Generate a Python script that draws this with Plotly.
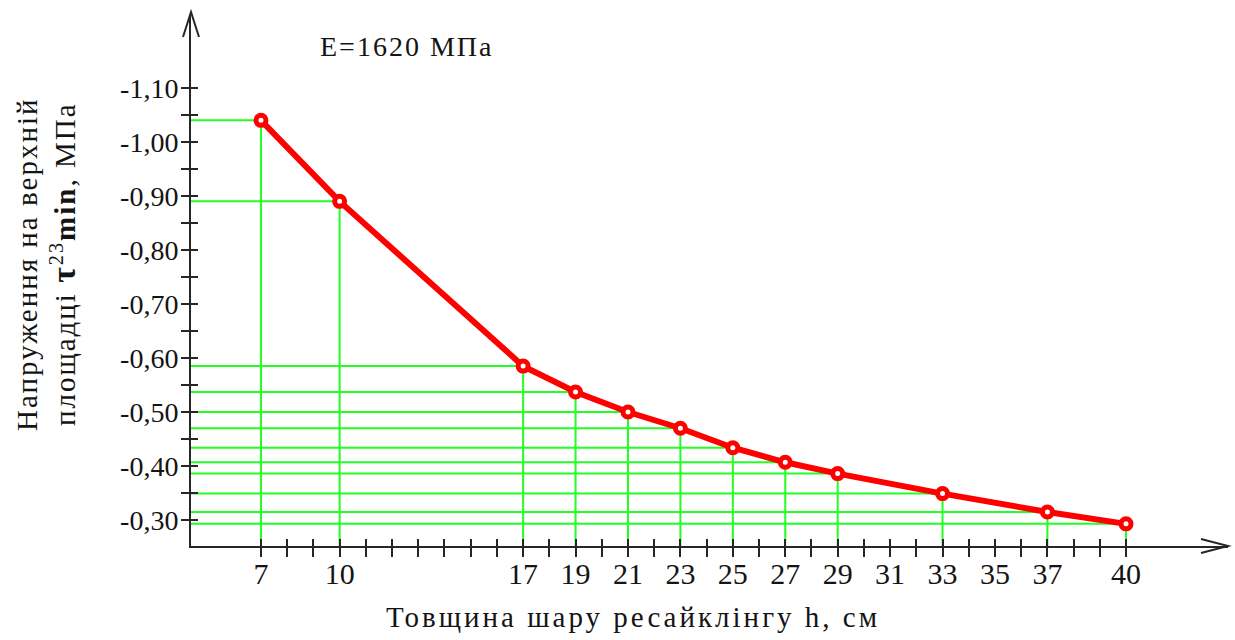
import plotly.graph_objects as go

# Layer thickness h, cm and minimum shear stress τ23min, MPa
thickness = [7, 10, 17, 19, 21, 23, 25, 27, 29, 33, 37, 40]
stress = [-1.04, -0.89, -0.585, -0.537, -0.50, -0.47, -0.434, -0.407, -0.386, -0.349, -0.315, -0.293]

# Axis ticks: labelled values and the full set of tick marks
x_label_vals = [7, 10, 17, 19, 21, 23, 25, 27, 29, 31, 33, 35, 37, 40]
x_tick_labels = ["7", "10", "17", "19", "21", "23", "25", "27", "29", "31", "33", "35", "37", "40"]
x_mark_vals = list(range(7, 41))
y_label_vals = [-0.30, -0.40, -0.50, -0.60, -0.70, -0.80, -0.90, -1.00, -1.10]
y_tick_labels = ["-0,30", "-0,40", "-0,50", "-0,60", "-0,70", "-0,80", "-0,90", "-1,00", "-1,10"]
y_mark_vals = [-0.30, -0.35, -0.40, -0.45, -0.50, -0.55, -0.60, -0.65, -0.70, -0.75,
               -0.80, -0.85, -0.90, -0.95, -1.00, -1.05, -1.10]

X_RANGE = [4.33, 43.89]
Y_RANGE = [-0.252, -1.235]  # reversed: most negative at the top

SERIF = "Liberation Serif, Times New Roman, serif"
AXIS_COLOR = "#262626"
TEXT_COLOR = "#141414"


def spaced(text, px):
    return f"<span style='letter-spacing:{px}px'>{text}</span>"


fig = go.Figure()

# Green projection lines from each point to both axes
gx, gy = [], []
for h, s in zip(thickness, stress):
    gx += [X_RANGE[0], h, h, None]
    gy += [s, s, Y_RANGE[0], None]
fig.add_trace(go.Scatter(x=gx, y=gy, mode="lines",
                         line=dict(color="#22ff22", width=2),
                         hoverinfo="skip", showlegend=False))

# Red curve with hollow markers
fig.add_trace(go.Scatter(x=thickness, y=stress, mode="lines+markers",
                         line=dict(color="#ff0000", width=6),
                         marker=dict(symbol="circle", size=10, color="white",
                                     line=dict(color="#ff0000", width=5)),
                         showlegend=False))

# Invisible trace to carry the overlay axes (inner half of crossing ticks)
fig.add_trace(go.Scatter(x=[X_RANGE[0]], y=[Y_RANGE[0]], xaxis="x2", yaxis="y2",
                         mode="markers", marker=dict(opacity=0),
                         hoverinfo="skip", showlegend=False))

fig.update_layout(
    width=1235, height=640,
    margin=dict(l=191, r=7, t=15, b=94),
    paper_bgcolor="white", plot_bgcolor="white",
    font=dict(family=SERIF, color=TEXT_COLOR, size=26),
    xaxis=dict(range=X_RANGE, showgrid=False, zeroline=False,
               showline=True, linecolor=AXIS_COLOR, linewidth=2,
               ticks="outside", ticklen=9, tickwidth=2, tickcolor=AXIS_COLOR,
               tickmode="array", tickvals=x_label_vals, ticktext=x_tick_labels,
               ticklabelstandoff=-9,
               minor=dict(tickmode="array", tickvals=x_mark_vals, ticks="outside",
                          ticklen=9, tickwidth=2, tickcolor=AXIS_COLOR, showgrid=False),
               tickfont=dict(family=SERIF, size=30, color=TEXT_COLOR)),
    yaxis=dict(range=Y_RANGE, showgrid=False, zeroline=False,
               showline=True, linecolor=AXIS_COLOR, linewidth=2,
               ticks="outside", ticklen=8, tickwidth=2, tickcolor=AXIS_COLOR,
               tickmode="array", tickvals=y_label_vals, ticktext=y_tick_labels,
               ticklabelstandoff=-3,
               minor=dict(tickmode="array", tickvals=y_mark_vals, ticks="outside",
                          ticklen=8, tickwidth=2, tickcolor=AXIS_COLOR, showgrid=False),
               tickfont=dict(family=SERIF, size=28, color=TEXT_COLOR)),
    xaxis2=dict(range=X_RANGE, overlaying="x", side="bottom", showgrid=False,
                zeroline=False, showline=False, ticks="inside", ticklen=7,
                tickwidth=2, tickcolor=AXIS_COLOR, tickmode="array",
                tickvals=x_mark_vals, showticklabels=False),
    yaxis2=dict(range=Y_RANGE, overlaying="y", side="left", showgrid=False,
                zeroline=False, showline=False, ticks="inside", ticklen=7,
                tickwidth=2, tickcolor=AXIS_COLOR, tickmode="array",
                tickvals=y_mark_vals, showticklabels=False),
)

# Open arrowheads at the ends of both axes (pixel offsets, y pointing up)
fig.add_shape(type="path", xref="paper", yref="paper", xsizemode="pixel", ysizemode="pixel",
              xanchor=0, yanchor=1,
              path="M -8,-22 L 0,3 L 8,-22",
              line=dict(color=AXIS_COLOR, width=2))
fig.add_shape(type="path", xref="paper", yref="paper", xsizemode="pixel", ysizemode="pixel",
              xanchor=1, yanchor=0,
              path="M -27,7 L 0,0 L -27,-7",
              line=dict(color=AXIS_COLOR, width=2))

PLOT_W = 1235 - 7 - 191
PLOT_H = 546 - 15

# Titles
fig.add_annotation(text=spaced("E=1620 МПа", 2), xref="paper", yref="paper",
                   x=(406 - 191) / PLOT_W, y=(546 - 47) / PLOT_H,
                   xanchor="center", yanchor="middle", showarrow=False,
                   font=dict(family=SERIF, size=28, color=TEXT_COLOR))
fig.add_annotation(text=spaced("Товщина шару ресайклінгу h, см", 3), xref="paper", yref="paper",
                   x=(633 - 191) / PLOT_W, y=(546 - 617) / PLOT_H,
                   xanchor="center", yanchor="middle", showarrow=False,
                   font=dict(family=SERIF, size=29, color=TEXT_COLOR))
fig.add_annotation(text=spaced("Напруження на верхній", 2) + "<br>"
                   + spaced("площадці <b><span style='font-size:34px'>τ</span></b><sup>23</sup><b>min</b>, МПа", 2),
                   xref="paper", yref="paper",
                   x=(46 - 191) / PLOT_W, y=(546 - 265) / PLOT_H,
                   xanchor="center", yanchor="middle", showarrow=False, textangle=-90,
                   font=dict(family=SERIF, size=29, color=TEXT_COLOR))

fig.write_html("out.html")
